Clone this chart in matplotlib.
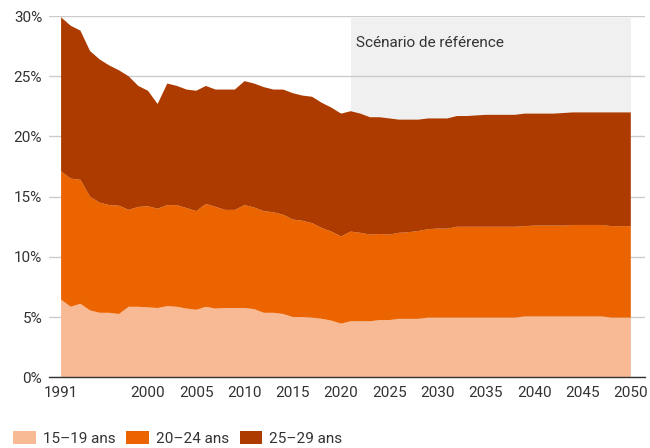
import numpy as np
import matplotlib.pyplot as plt
from matplotlib.patches import Patch

plt.rcParams['font.family'] = ['Roboto', 'DejaVu Sans']

years = np.arange(1991, 2051)

# part de chaque tranche d'age (en %)
ans_15_19 = [6.45, 5.85, 6.1, 5.55, 5.35, 5.35, 5.25, 5.85, 5.85, 5.8,
             5.75, 5.9, 5.85, 5.7, 5.6, 5.85, 5.7, 5.75, 5.75, 5.75,
             5.65, 5.35, 5.35, 5.25, 5.0, 5.0, 4.95, 4.85, 4.7, 4.45,
             4.65, 4.65, 4.65, 4.75, 4.75, 4.85, 4.85, 4.85, 4.95, 4.95,
             4.95, 4.95, 4.95, 4.95, 4.95, 4.95, 4.95, 4.95, 5.05, 5.05,
             5.05, 5.05, 5.05, 5.05, 5.05, 5.05, 5.05, 4.95, 4.95, 4.95]
ans_20_24 = [10.65, 10.65, 10.3, 9.45, 9.15, 8.95, 9.0, 8.05, 8.3, 8.4,
             8.25, 8.4, 8.45, 8.35, 8.2, 8.55, 8.45, 8.15, 8.15, 8.55,
             8.45, 8.45, 8.35, 8.25, 8.1, 8.0, 7.85, 7.55, 7.4, 7.25,
             7.45, 7.35, 7.2, 7.15, 7.1, 7.15, 7.2, 7.3, 7.35, 7.4,
             7.4, 7.55, 7.55, 7.55, 7.55, 7.55, 7.55, 7.55, 7.5, 7.55,
             7.55, 7.55, 7.55, 7.6, 7.6, 7.6, 7.6, 7.6, 7.6, 7.6]
ans_25_29 = [12.8, 12.7, 12.4, 12.1, 11.9, 11.6, 11.25, 11.1, 10.05, 9.6,
             8.7, 10.1, 9.9, 9.85, 10.0, 9.8, 9.75, 10.0, 10.0, 10.3,
             10.3, 10.3, 10.2, 10.4, 10.5, 10.4, 10.5, 10.4, 10.3, 10.2,
             10.0, 9.9, 9.75, 9.7, 9.65, 9.4, 9.35, 9.25, 9.2, 9.15,
             9.15, 9.2, 9.2, 9.25, 9.3, 9.3, 9.3, 9.3, 9.35, 9.3,
             9.3, 9.3, 9.35, 9.35, 9.35, 9.35, 9.35, 9.45, 9.45, 9.45]

labels = ['15–19 ans', '20–24 ans', '25–29 ans']
colors = ['#F7BA94', '#EC6400', '#AD3B00']
scenario_start = 2021
xticks = [1991, 2000, 2005, 2010, 2015, 2020, 2025, 2030, 2035, 2040, 2045, 2050]

fig = plt.figure(figsize=(6.5, 4.48), dpi=100)
ax = fig.add_axes([0.0754, 0.158, 0.9166, 0.806])

# zone du scenario
ax.axvspan(scenario_start, years[-1], ymin=0, ymax=0.995, color='#F0F0F0', lw=0, zorder=0)
ax.text(scenario_start + 0.5, 27.8, 'Scénario de référence', fontsize=11,
        color='#333333', va='center', ha='left', zorder=1)

ax.stackplot(years, ans_15_19, ans_20_24, ans_25_29, colors=colors,
             labels=labels, lw=0, zorder=2)

ax.set_xlim(1989.75, 2051.45)
ax.set_ylim(0, 30)
ax.set_yticks(np.arange(0, 31, 5))
ax.set_yticklabels([f'{v}%' for v in range(0, 31, 5)])
ax.set_xticks(xticks)
ax.grid(axis='y', color='#CCCCCC', lw=1, zorder=1)
ax.set_axisbelow(True)
ax.tick_params(axis='both', length=0, labelsize=11, colors='#333333')
ax.tick_params(axis='y', pad=5)
ax.tick_params(axis='x', pad=6)
for s in ['top', 'right', 'left']:
    ax.spines[s].set_visible(False)
ax.spines['bottom'].set_color('#333333')
ax.spines['bottom'].set_linewidth(1)
ax.spines['bottom'].set_zorder(5)

handles = [Patch(facecolor=c, edgecolor='none') for c in colors]
fig.legend(handles, labels, loc='lower left', bbox_to_anchor=(0.008, -0.012),
           ncol=3, frameon=False, fontsize=11, handlelength=1.5,
           handleheight=0.9, handletextpad=0.45, columnspacing=0.7,
           borderpad=0.0, labelcolor='#333333')

fig.savefig('out.png', dpi=100)
